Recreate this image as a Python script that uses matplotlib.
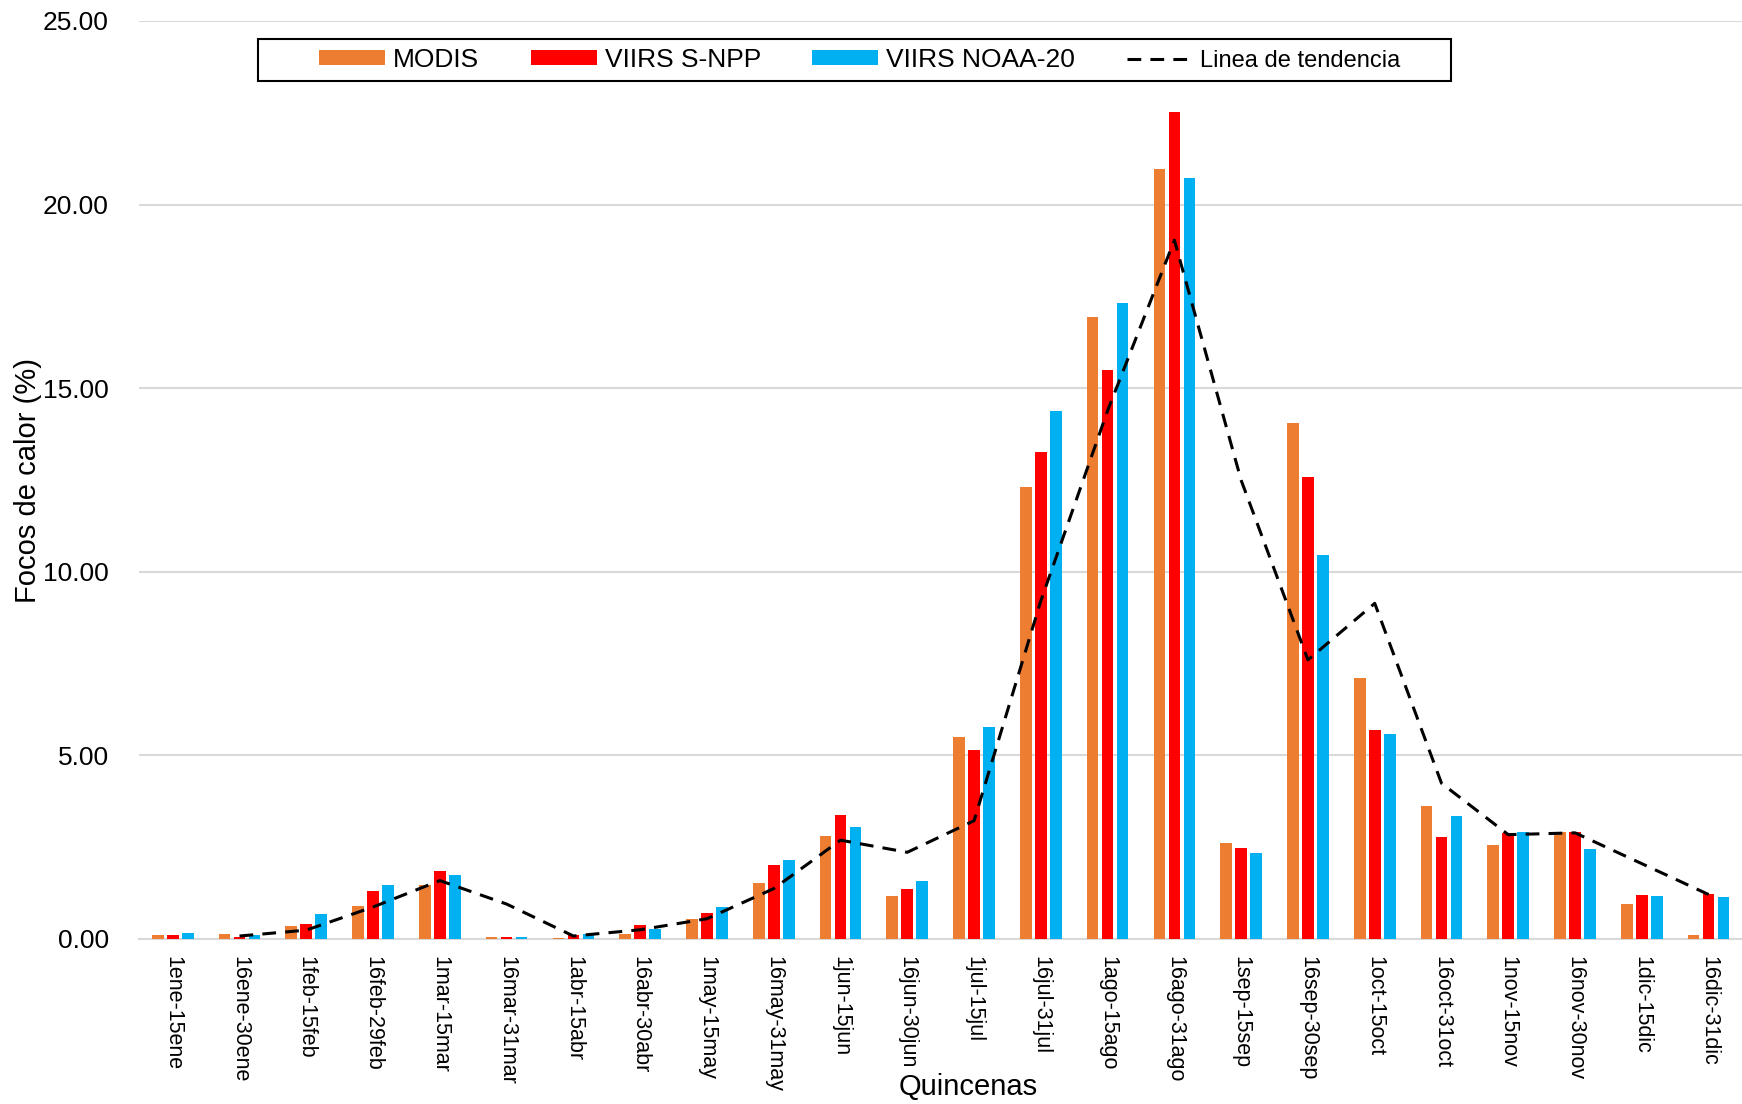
import numpy as np
import matplotlib.pyplot as plt
from matplotlib.patches import Rectangle

plt.rcParams['font.family'] = ['Liberation Sans', 'DejaVu Sans']

quincenas = ['1ene-15ene', '16ene-30ene', '1feb-15feb', '16feb-29feb', '1mar-15mar',
             '16mar-31mar', '1abr-15abr', '16abr-30abr', '1may-15may', '16may-31may',
             '1jun-15jun', '16jun-30jun', '1jul-15jul', '16jul-31jul', '1ago-15ago',
             '16ago-31ago', '1sep-15sep', '16sep-30sep', '1oct-15oct', '16oct-31oct',
             '1nov-15nov', '16nov-30nov', '1dic-15dic', '16dic-31dic']

modis = [0.10, 0.13, 0.36, 0.90, 1.46, 0.04, 0.02, 0.13, 0.53, 1.52, 2.80, 1.18,
         5.49, 12.30, 16.93, 20.96, 2.60, 14.06, 7.12, 3.62, 2.56, 2.92, 0.96, 0.10]
snpp = [0.10, 0.05, 0.42, 1.31, 1.86, 0.04, 0.10, 0.39, 0.72, 2.01, 3.37, 1.35,
        5.14, 13.27, 15.50, 22.51, 2.47, 12.59, 5.69, 2.79, 2.88, 2.90, 1.19, 1.22]
noaa20 = [0.15, 0.11, 0.68, 1.47, 1.73, 0.04, 0.13, 0.27, 0.86, 2.14, 3.06, 1.57,
          5.78, 14.39, 17.33, 20.73, 2.34, 10.45, 5.57, 3.36, 2.91, 2.44, 1.17, 1.14]
# trend line (no value at the first fortnight)
tendencia = [np.nan, 0.08, 0.24, 0.87, 1.59, 0.95, 0.08, 0.25, 0.55, 1.37, 2.69, 2.36,
             3.22, 9.21, 14.39, 19.03, 12.49, 7.60, 9.14, 4.24, 2.84, 2.89, 2.05, 1.21]

c_modis = '#ED7D31'
c_snpp = '#FF0000'
c_noaa = '#00B0F0'

fig = plt.figure(figsize=(17.42, 11.04), dpi=100)
ax = fig.add_axes([0.080, 0.1495, 0.920, 0.8315])

x = np.arange(len(quincenas))
w = 0.175
step = 0.225
b1 = ax.bar(x - step, modis, w, color=c_modis, label='MODIS', zorder=3)
b2 = ax.bar(x, snpp, w, color=c_snpp, label='VIIRS S-NPP', zorder=3)
b3 = ax.bar(x + step, noaa20, w, color=c_noaa, label='VIIRS NOAA-20', zorder=3)
ln, = ax.plot(x, tendencia, color='black', lw=2.2, dashes=(4.5, 3), label='Linea de tendencia', zorder=4)

ax.set_xlim(-0.5, len(quincenas) - 0.5)
ax.set_ylim(0, 25)
ax.set_yticks(np.arange(0, 25.01, 5))
ax.set_yticklabels([f'{v:.2f}' for v in np.arange(0, 25.01, 5)], fontsize=19)
ax.set_xticks(x)
ax.set_xticklabels(quincenas, rotation=270, fontsize=15.5, va='top', ha='center')
ax.tick_params(axis='both', length=0)
ax.tick_params(axis='y', pad=22)
ax.tick_params(axis='x', pad=12)

ax.grid(axis='y', color='#D9D9D9', lw=1.5, zorder=0)
for s in ['top', 'right', 'left']:
    ax.spines[s].set_visible(False)
ax.spines['bottom'].set_color('#D9D9D9')
ax.spines['bottom'].set_linewidth(1.5)

fig.text(0.016, 0.565, 'Focos de calor (%)', rotation=90, fontsize=21, ha='center', va='center')
fig.text(0.556, 0.003, 'Quincenas', fontsize=21, ha='center', va='bottom')

leg = fig.legend([b1, b2, b3, ln], ['MODIS', 'VIIRS S-NPP', 'VIIRS NOAA-20', 'Linea de tendencia'],
                 loc='center', bbox_to_anchor=(0.4937, 0.9457), ncol=4, fontsize=19,
                 frameon=False, handlelength=2.5, handleheight=0.5, handletextpad=0.3,
                 columnspacing=1.95, borderpad=0.35, borderaxespad=0)
leg.get_texts()[3].set_fontsize(17)

# legend box is wider than its content in the original
fig.patches.append(Rectangle((258 / 1742, 1 - 81 / 1104), (1451 - 258) / 1742, 42 / 1104,
                             transform=fig.transFigure, fill=False, ec='black', lw=1.5))

fig.savefig('out.png', dpi=100)
